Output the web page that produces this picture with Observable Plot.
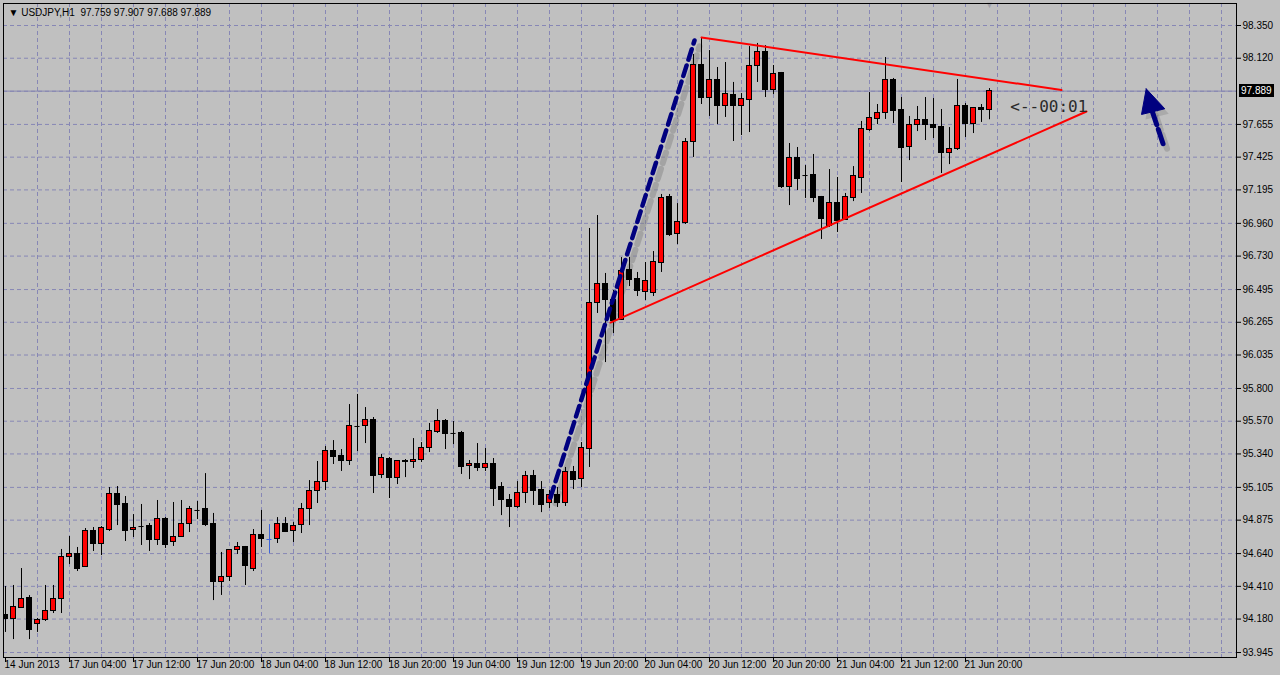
<!DOCTYPE html>
<html>
<head>
<meta charset="utf-8">
<script src="https://cdn.jsdelivr.net/npm/d3@7"></script>
<script src="https://cdn.jsdelivr.net/npm/@observablehq/plot@0.6"></script>
<style>
html,body{margin:0;padding:0;background:#c0c0c0;width:1280px;height:675px;overflow:hidden;}
#wrap{position:relative;width:1280px;height:675px;}
#wrap svg{position:absolute;left:0;top:0;}
#bid{position:absolute;background:#000;color:#fff;font:10px "Liberation Sans",Arial,sans-serif;line-height:13px;height:13px;padding:0 2px;}
</style>
</head>
<body>
<div id="wrap"></div>
<script>
// ---- Hourly USDJPY candles (bar index 0 = 14 Jun 2013 last bars ... 123 = 21 Jun 23:00)
const opens = [94.212,94.177,94.261,94.331,94.142,94.170,94.240,94.324,94.619,94.640,
94.549,94.802,94.704,94.809,95.062,94.985,94.809,94.830,94.837,94.732,
94.886,94.718,94.760,94.851,94.943,94.950,94.851,94.437,94.479,94.662,
94.683,94.535,94.774,94.739,94.739,94.851,94.802,94.844,94.950,95.083,
95.146,95.364,95.329,95.287,95.533,95.533,95.582,95.189,95.308,95.174,
95.280,95.280,95.301,95.385,95.491,95.575,95.484,95.484,95.252,95.266,
95.238,95.266,95.111,95.020,94.964,95.069,95.182,95.090,94.992,95.055,
94.992,95.210,95.167,95.378,96.404,96.537,96.425,96.284,96.629,96.572,
96.481,96.474,96.685,97.142,96.882,96.966,97.535,98.076,97.844,97.964,
97.788,97.865,97.788,97.830,98.069,98.167,97.900,98.013,97.212,97.416,
97.296,97.303,97.142,96.938,97.106,96.987,97.135,97.282,97.619,97.690,
97.732,97.964,97.753,97.493,97.654,97.683,97.654,97.640,97.451,97.479,
97.781,97.661,97.767,97.759];
const highs = [94.409,94.416,94.535,94.345,94.184,94.416,94.416,94.669,94.760,94.683,
94.816,94.823,94.830,95.104,95.111,95.041,94.914,94.985,94.851,95.013,
94.893,94.999,95.013,94.971,95.006,95.202,94.922,94.648,94.666,94.718,
94.690,94.809,94.943,94.844,94.893,94.893,94.858,94.992,95.153,95.287,
95.392,95.434,95.371,95.687,95.758,95.666,95.596,95.336,95.315,95.294,
95.301,95.448,95.420,95.554,95.652,95.582,95.568,95.498,95.294,95.413,
95.378,95.308,95.139,95.055,95.146,95.217,95.224,95.146,95.083,95.104,
95.245,95.252,95.420,96.924,97.015,96.608,96.488,96.720,96.720,96.615,
96.685,96.762,97.163,97.163,97.099,97.556,98.146,98.266,98.174,98.055,
98.090,97.950,97.872,98.202,98.224,98.209,98.069,98.020,97.521,97.493,
97.366,97.444,97.149,97.338,97.282,97.170,97.359,97.676,97.879,97.795,
98.125,97.978,97.844,97.711,97.781,97.844,97.837,97.760,97.633,97.971,
97.802,97.774,97.795,97.907];
const lows = [94.086,94.036,94.255,94.036,94.086,94.163,94.219,94.219,94.563,94.514,
94.545,94.655,94.626,94.795,94.837,94.725,94.753,94.697,94.655,94.697,
94.676,94.690,94.755,94.788,94.879,94.830,94.310,94.346,94.444,94.634,
94.416,94.514,94.683,94.640,94.711,94.788,94.718,94.781,94.837,94.992,
95.083,95.266,95.217,95.259,95.357,95.413,95.062,95.167,95.027,95.125,
95.174,95.238,95.280,95.350,95.484,95.371,95.406,95.196,95.160,95.217,
95.217,94.971,94.907,94.823,94.957,94.992,94.978,94.928,94.957,94.964,
94.971,95.090,95.104,95.245,96.327,95.982,96.186,96.280,96.516,96.446,
96.418,96.446,96.615,96.868,96.811,96.952,97.423,97.795,97.711,97.654,
97.704,97.535,97.577,97.598,97.950,97.844,97.865,97.205,97.085,97.191,
97.135,97.106,96.847,96.931,96.896,96.980,97.113,97.170,97.605,97.654,
97.690,97.661,97.247,97.401,97.605,97.542,97.556,97.310,97.373,97.472,
97.563,97.591,97.669,97.688];
const closes = [94.177,94.268,94.324,94.100,94.170,94.240,94.324,94.619,94.640,94.535,
94.802,94.704,94.823,95.062,94.978,94.802,94.823,94.830,94.732,94.886,
94.697,94.760,94.851,94.950,94.943,94.844,94.437,94.479,94.662,94.683,
94.556,94.774,94.739,94.739,94.851,94.795,94.837,94.950,95.083,95.146,
95.364,95.322,95.287,95.533,95.533,95.582,95.182,95.315,95.174,95.287,
95.294,95.301,95.385,95.498,95.575,95.477,95.484,95.245,95.266,95.238,
95.266,95.097,95.020,94.964,95.069,95.182,95.083,94.978,95.055,94.992,
95.210,95.160,95.385,96.404,96.537,96.425,96.277,96.622,96.565,96.488,
96.558,96.692,97.135,96.875,96.973,97.535,98.076,97.844,97.964,97.788,
97.872,97.788,97.837,98.069,98.167,97.900,98.006,97.212,97.416,97.275,
97.296,97.135,96.994,97.106,96.980,97.142,97.296,97.626,97.697,97.732,
97.964,97.746,97.486,97.654,97.683,97.654,97.633,97.451,97.479,97.788,
97.661,97.767,97.753,97.889];
const blueBars = [33];

// ---- axis labels
const xTickIdx = [0,8,16,24,32,40,48,56,64,72,80,88,96,104,112,120];
const xTickLabels = ["14 Jun 2013","17 Jun 04:00","17 Jun 12:00","17 Jun 20:00","18 Jun 04:00",
"18 Jun 12:00","18 Jun 20:00","19 Jun 04:00","19 Jun 12:00","19 Jun 20:00","20 Jun 04:00",
"20 Jun 12:00","20 Jun 20:00","21 Jun 04:00","21 Jun 12:00","21 Jun 20:00"];
const yTickLabels = ["98.350","98.120","97.655","97.425","97.195","96.960","96.730","96.495",
"96.265","96.035","95.800","95.570","95.340","95.105","94.875","94.640","94.410","94.180","93.945"];
const yTickValues = yTickLabels.map(Number);
const gridLevels = yTickValues.concat([97.888]);
const bidPrice = 97.889;
const titleText = "\u25BC USDJPY,H1\u00A0\u00A097.759 97.907 97.688 97.889";
const timerText = "<--00:01";

// ---- drawn objects (bar index, price)
const upperLineIdx = [87, 132], upperLinePx = [98.266, 97.897];
const lowerLineIdx = [75.625, 135.125], lowerLinePx = [96.263, 97.746];
const blueLineIdx = [68.125, 86.125], blueLinePx = [95.034, 98.245];
const arrowShaftIdx = [143.31, 144.81], arrowShaftPx = [97.753, 97.500];
const arrowHeadIdx = [142.59, 142.0, 144.91, 142.59], arrowHeadPx = [97.905, 97.725, 97.765, 97.905];
const timerIdx = 125.6, timerPx = 97.78;

const pts = (xs, ys) => xs.map((x, k) => ({x, y: ys[k]}));
const bars = opens.map((o, i) => ({i, o, h: highs[i], l: lows[i], c: closes[i], blue: blueBars.includes(i)}));
const gridX = d3.range(4, 154, 4);
const GRID = "#8787b5";
const NAVY = "#00007f";

const chart = Plot.plot({
  width: 1280, height: 675,
  marginLeft: 3, marginRight: 44, marginTop: 3, marginBottom: 18,
  style: {background: "#c0c0c0", fontFamily: "Liberation Sans, Arial, sans-serif", fontSize: "10px", color: "black", overflow: "visible"},
  x: {type: "linear", domain: [-0.25, 153.875], axis: "bottom", ticks: xTickIdx, tickFormat: () => "", tickSize: 5, label: null},
  y: {domain: [93.910, 98.5046], axis: "right", ticks: yTickValues, tickFormat: d => d.toFixed(3), tickSize: 4, tickPadding: 2, label: null},
  color: {type: "identity"},
  marks: [
    Plot.ruleY(gridLevels, {stroke: GRID, strokeDasharray: "4,3"}),
    Plot.ruleX(gridX, {stroke: GRID, strokeDasharray: "4,3"}),
    Plot.ruleY([bidPrice], {stroke: "#8686b0"}),
    // shadows
    Plot.line(pts(blueLineIdx, blueLinePx), {x: "x", y: "y", stroke: "#808080", strokeOpacity: 0.45, strokeWidth: 6, strokeDasharray: "11,6", dx: 5, dy: 6}),
    // wicks
    Plot.ruleX(bars, {x: "i", y1: "l", y2: "h", stroke: d => d.blue ? "#3c64dc" : "#000000", clip: true}),
    // bodies
    Plot.rect(bars.filter(d => d.o !== d.c), {
      x1: d => d.i - 0.27, x2: d => d.i + 0.27, y1: "o", y2: "c",
      fill: d => d.c > d.o ? "#ff0000" : "#000000", stroke: "#000000", strokeWidth: 1,
      shapeRendering: "crispEdges", clip: true
    }),
    // doji
    Plot.ruleY(bars.filter(d => d.o === d.c), {x1: d => d.i - 0.32, x2: d => d.i + 0.32, y: "o", stroke: d => d.blue ? "#3c64dc" : "#000000"}),
    // red triangle lines
    Plot.line(pts(upperLineIdx, upperLinePx), {x: "x", y: "y", stroke: "#ff0000", strokeWidth: 2}),
    Plot.line(pts(lowerLineIdx, lowerLinePx), {x: "x", y: "y", stroke: "#ff0000", strokeWidth: 2}),
    // navy dashed impulse line
    Plot.line(pts(blueLineIdx, blueLinePx), {x: "x", y: "y", stroke: NAVY, strokeWidth: 4.5, strokeDasharray: "11,6"}),
    // arrow
    Plot.line(pts(arrowShaftIdx, arrowShaftPx), {x: "x", y: "y", stroke: "#808080", strokeOpacity: 0.4, strokeWidth: 6, strokeDasharray: "15,5", dx: 4, dy: 5}),
    Plot.line(pts(arrowHeadIdx, arrowHeadPx), {x: "x", y: "y", fill: "#808080", fillOpacity: 0.35, stroke: "none", dx: 4, dy: 5}),
    Plot.line(pts(arrowShaftIdx, arrowShaftPx), {x: "x", y: "y", stroke: NAVY, strokeWidth: 5, strokeDasharray: "15,5"}),
    Plot.line(pts(arrowHeadIdx, arrowHeadPx), {x: "x", y: "y", fill: NAVY, stroke: NAVY, strokeWidth: 1}),
    // timer text
    Plot.text([timerText], {x: () => timerIdx, y: () => timerPx, text: d => d, textAnchor: "start", fontFamily: "DejaVu Sans Mono", fontSize: 16, fill: "#2a2a2a"}),
    // x labels
    Plot.text(xTickIdx, {x: d => d, text: (d, k) => xTickLabels[k], frameAnchor: "bottom", textAnchor: "start", lineAnchor: "top", dy: 3, dx: -1, fill: "black"}),
    // title
    Plot.text([titleText], {frameAnchor: "top-left", textAnchor: "start", lineAnchor: "middle", dx: 5, dy: 9, fill: "black"}),
    // chart shift marker
    Plot.text([opens.length - 1], {x: d => d, text: () => "\u25BC", frameAnchor: "top", lineAnchor: "middle", dy: 2, fill: "#a0a0a8", fontSize: 9}),
    Plot.frame({stroke: "black"})
  ]
});

const wrap = document.getElementById("wrap");
wrap.appendChild(chart);
const ys = chart.scale("y");
const bid = document.createElement("div");
bid.id = "bid";
bid.textContent = bidPrice.toFixed(3);
bid.style.left = "1239px";
bid.style.top = (ys.apply(bidPrice) - 6.5) + "px";
wrap.appendChild(bid);
</script>
</body>
</html>
